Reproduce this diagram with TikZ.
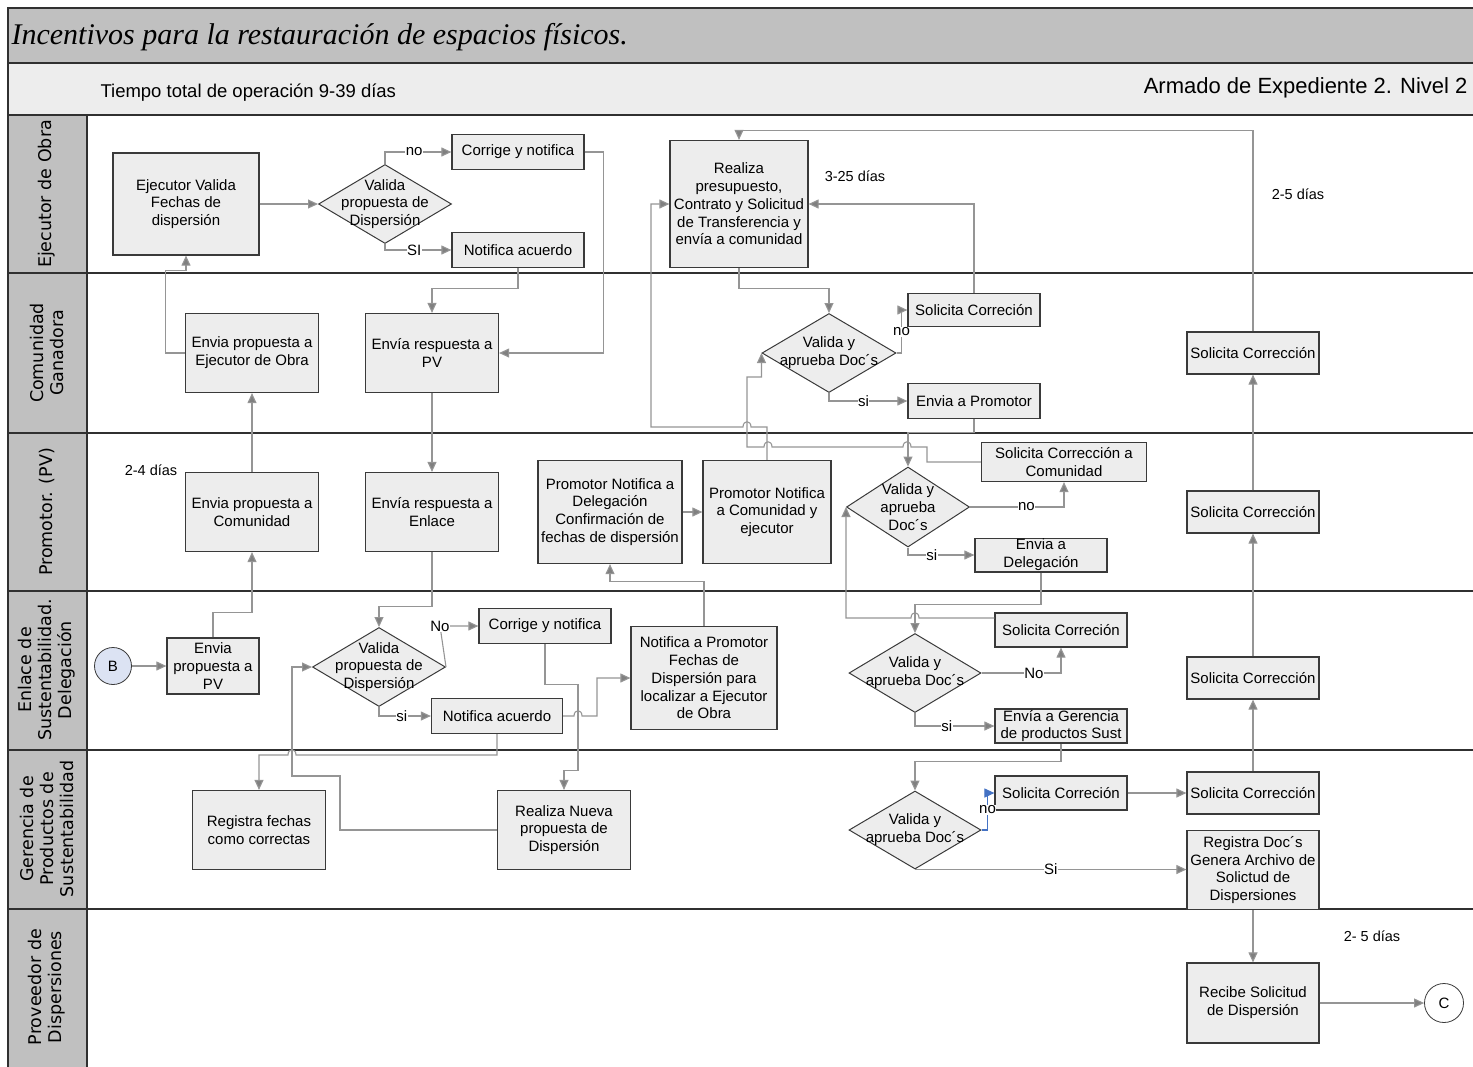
\documentclass[tikz,border=0pt]{standalone}
\usepackage{fontspec}
\setmainfont{Liberation Sans}
\newfontfamily\lanesans{DejaVu Sans}
\newfontfamily\titleserif{Liberation Serif}
\usetikzlibrary{arrows.meta,shapes.geometric}

\definecolor{titlegray}{HTML}{C0C0C0}
\definecolor{headgray}{HTML}{EDEDED}
\definecolor{boxfill}{HTML}{EDEDED}
\definecolor{boxline}{HTML}{3A3A3A}
\definecolor{flowgray}{HTML}{959595}
\definecolor{tipgray}{HTML}{808080}
\definecolor{linkblue}{HTML}{4472C4}
\definecolor{bfill}{HTML}{DCE3F3}
\definecolor{lanedark}{HTML}{303030}

\newcommand{\procfont}{\fontsize{15}{17.8}\selectfont}
\newcommand{\lanetxt}{\lanesans\fontsize{17.5}{20}\selectfont}
\newcommand{\daytxt}{\fontsize{14.5}{17}\selectfont}
\newcommand{\titletxt}{\titleserif\itshape\fontsize{30}{34}\selectfont}

\tikzset{
  lane/.style={draw=lanedark, line width=1.6pt},
  proc/.style={rectangle, draw=boxline, fill=boxfill, line width=1.2pt, align=center, font=\procfont, inner sep=1pt},
  big/.style={proc, minimum width=133pt, minimum height=79pt},
  slim/.style={proc, minimum width=132pt, minimum height=35pt},
  mid/.style={proc, minimum width=132pt, minimum height=42pt},
  decision/.style={diamond, draw=boxline, fill=boxfill, line width=1pt, minimum width=133pt, minimum height=79pt, inner sep=0pt},
  flow/.style={draw=flowgray, line width=1.1pt, -{Triangle[length=10pt,width=9pt,fill=tipgray]}},
  tag/.style={fill=white, font=\procfont, inner sep=0.5pt},
  days/.style={font=\daytxt},
  lanelabel/.style={rotate=90, align=center, font=\lanetxt},
}

\begin{document}
\begin{tikzpicture}[x=1pt,y=-1pt]
  \useasboundingbox (0,0) rectangle (1473,1066);
  \clip (0,0) rectangle (1473,1066);

  % Bands and lanes
  \fill[titlegray] (8,8) rectangle (1480,63);
  \fill[headgray] (8,63) rectangle (1480,115);
  \fill[titlegray] (8,115) rectangle (87,1070);
  \draw[lane] (8,1070) -- (8,8) -- (1480,8);
  \draw[lane] (8,63) -- (1480,63) (8,115) -- (1480,115) (8,273) -- (1480,273)
    (8,433) -- (1480,433) (8,591) -- (1480,591) (8,750) -- (1480,750) (8,909) -- (1480,909);
  \draw[lane] (87,115) -- (87,1070);

  \node[anchor=west, font=\titletxt] (title) at (8,37) {Incentivos para la restauración de espacios físicos.};
  \node[anchor=west, font=\fontsize{18.5}{22}\selectfont] (tiempo) at (97,93) {Tiempo total de operación 9-39 días};
  \node[anchor=east, font=\fontsize{22}{26}\selectfont] (armado) at (1471,88) {Armado de Expediente 2. Nivel 2};

  \node[lanelabel] (laneEj) at (47,194) {Ejecutor de Obra};
  \node[lanelabel] (laneCom) at (47,353) {Comunidad\\Ganadora};
  \node[lanelabel] (lanePV) at (47,512) {Promotor. (PV)};
  \node[lanelabel] (laneEnl) at (47,670) {Enlace de\\Sustentabilidad.\\Delegación};
  \node[lanelabel] (laneGer) at (47,829) {Gerencia de\\Productos de\\Sustentabilidad};
  \node[lanelabel] (laneProv) at (47,987) {Proveedor de\\Dispersiones};

  % Ejecutor de Obra
  \node[proc, minimum width=146pt, minimum height=102pt] (ejval) at (186,204) {Ejecutor Valida\\Fechas de\\dispersión};
  \node[decision, label={[font=\procfont,align=center]center:{Valida\\propuesta de\\Dispersión}}] (dec1) at (385,204) {};
  \node[slim] (corr1) at (518,152) {Corrige y notifica};
  \node[slim] (notif1) at (518,250) {Notifica acuerdo};
  \node[proc, minimum width=138pt, minimum height=127pt] (realiza) at (739,204) {Realiza\\presupuesto,\\Contrato y Solicitud\\de Transferencia y\\envía a comunidad};
  \node[days] (t325) at (855,176) {3-25 días};
  \node[days] (t25) at (1298,194) {2-5 días};

  % Comunidad Ganadora
  \node[big] (envEj) at (252,353) {Envia propuesta a\\Ejecutor de Obra};
  \node[big] (envPV) at (432,353) {Envía respuesta a\\PV};
  \node[decision, minimum width=134pt, label={[font=\procfont,align=center]center:{Valida y\\aprueba Doc´s}}] (dec2) at (829,353) {};
  \node[slim, minimum height=33pt] (solc1) at (974,310) {Solicita Correción};
  \node[slim] (envProm) at (974,401) {Envia a Promotor};
  \node[mid] (solcR1) at (1253,353) {Solicita Corrección};

  % Promotor
  \node[days] (t24) at (151,470) {2-4 días};
  \node[big] (envCom) at (252,512) {Envia propuesta a\\Comunidad};
  \node[big] (envEnl) at (432,512) {Envía respuesta a\\Enlace};
  \node[proc, minimum width=144pt, minimum height=103pt] (promDel) at (610,512) {Promotor Notifica a\\Delegación\\Confirmación de\\fechas de dispersión};
  \node[proc, minimum width=128pt, minimum height=103pt] (promCom) at (767,512) {Promotor Notifica\\a Comunidad y\\ejecutor};
  \node[decision, minimum width=123pt, minimum height=80pt, label={[font=\procfont,align=center]center:{Valida y\\aprueba\\Doc´s}}] (dec3) at (908,507) {};
  \node[proc, minimum width=165pt, minimum height=39pt] (solcCom) at (1064,462) {Solicita Corrección a\\Comunidad};
  \node[slim, minimum height=33pt] (envDel) at (1041,555) {Envia a\\Delegación};
  \node[mid] (solcR2) at (1253,512) {Solicita Corrección};

  % Enlace de Sustentabilidad
  \node[circle, draw=boxline, fill=bfill, line width=0.8pt, minimum size=37pt, font=\procfont] (B) at (113,666) {B};
  \node[proc, minimum width=92pt, minimum height=56pt] (envPV2) at (213,666) {Envia\\propuesta a\\PV};
  \node[decision, label={[font=\procfont,align=center]center:{Valida\\propuesta de\\Dispersión}}] (dec4) at (379,667) {};
  \node[slim] (corr4) at (545,626) {Corrige y notifica};
  \node[slim, minimum width=131pt] (notif4) at (497,716) {Notifica acuerdo};
  \node[proc, minimum width=146pt, minimum height=103pt] (notProm) at (704,678) {Notifica a Promotor\\Fechas de\\Dispersión para\\localizar a Ejecutor\\de Obra};
  \node[decision, minimum width=132pt, label={[font=\procfont,align=center]center:{Valida y\\aprueba Doc´s}}] (dec5) at (915,673) {};
  \node[slim, minimum height=34pt] (solc5) at (1061,630) {Solicita Correción};
  \node[slim, minimum height=34pt] (envGer) at (1061,726) {Envía a Gerencia\\de productos Sust};
  \node[mid] (solcR3) at (1253,678) {Solicita Corrección};

  % Gerencia de Productos
  \node[big] (regF) at (259,830) {Registra fechas\\como correctas};
  \node[big] (realN) at (564,830) {Realiza Nueva\\propuesta de\\Dispersión};
  \node[decision, minimum width=132pt, minimum height=78pt, label={[font=\procfont,align=center]center:{Valida y\\aprueba Doc´s}}] (dec6) at (915,830) {};
  \node[slim, minimum height=34pt] (solc6) at (1061,793) {Solicita Correción};
  \node[mid] (solcR4) at (1253,793) {Solicita Corrección};
  \node[big, minimum width=132pt] (regDoc) at (1253,870) {Registra Doc´s\\Genera Archivo de\\Solictud de\\Dispersiones};

  % Proveedor
  \node[days] (t25b) at (1372,936) {2- 5 días};
  \node[big, minimum width=132pt, minimum height=80pt] (recibe) at (1253,1003) {Recibe Solicitud\\de Dispersión};
  \node[circle, draw=boxline, fill=white, line width=0.8pt, minimum size=39pt, font=\procfont] (C) at (1444,1003) {C};

  % connectors, first lane
  \draw[flow] (ejval.east) -- (dec1.west);
  \draw[flow] (dec1.north) |- node[tag,pos=0.72]{no} (corr1.west);
  \draw[flow] (dec1.south) |- node[tag,pos=0.72]{SI} (notif1.west);
  \draw[flow] (corr1.east) -- ++(19,0) |- (envPV.east);
  \draw[flow] (notif1.south) -- ++(0,20) -| (envPV.north);
  \draw[flow] (envEj.west) -- ++(-19,0) |- ([yshift=-15pt]ejval.south) -- (ejval.south);
  \draw[flow] (envCom.north) -- (envEj.south);
  \draw[flow] (envPV.south) -- (envEnl.north);

  % connectors, Enlace and Gerencia
  \draw[flow] (B) -- (envPV2);
  \draw[flow] (envPV2.north) -- ++(0,-25) -| (envCom.south);
  \draw[flow] (envEnl.south) -- ++(0,54) -| (dec4.north);
  \draw[flow] (dec4.east) -- (440,626) node[tag]{No} -- (corr4.west);
  \draw[flow] (dec4.south) |- node[tag,pos=0.72]{si} (notif4.west);
  \draw[flow] (corr4.south) -- ++(0,40) -- ++(33,0) -- ++(0,86) -| (realN.north);
  \draw[flow] (notif4.east) -- (574,716) .. controls (574,709) and (582,709) .. (582,716) -- (597,716) |- (notProm.west);
  \draw[flow] (notif4.south) |- (296,755) .. controls (296,748) and (288,748) .. (288,755) -| (regF.north);
  \draw[flow] (realN.west) -- (340,830) -- (340,776) -- (292,776) |- (dec4.west);
  \draw[flow] (notProm.north) -- ++(0,-44) -| (promDel.south);
  \draw[flow] (promDel.east) -- (promCom.west);

  % connectors, Promotor and Comunidad
  \draw[flow] (promCom.north) -- (767,427) -- (751,427) .. controls (751,420) and (743,420) .. (743,427) -- (651,427) |- (realiza.west);
  \draw[flow] (solcCom.west) -- (927,462) -- (927,447) -- (911,447) .. controls (911,440) and (903,440) .. (903,447)
    -- (772,447) .. controls (772,440) and (764,440) .. (764,447) -- (747,447) -- (747,377) -| (dec2.west);
  \draw[flow] (envProm.south) -- ++(0,13) -| (dec3.north);
  \draw[flow] (realiza.south) -- ++(0,20) -| (dec2.north);
  \draw[flow] (dec2.east) -- ++(5,0) -- ++(0,-21) node[tag]{no} |- (solc1.west);
  \draw[flow] (dec2.south) |- node[tag,pos=0.72]{si} (envProm.west);
  \draw[flow] (solc1.north) |- (realiza.east);
  \draw[flow] (solcR1.north) -- ++(0,-201) -| (realiza.north);
  \draw[flow] (dec3.east) -| node[tag,pos=0.3]{no} (solcCom.south);
  \draw[flow] (dec3.south) |- node[tag,pos=0.68]{si} (envDel.west);

  % connectors, right side
  \draw[flow] (envDel.south) -- ++(0,32) -| (dec5.north);
  \draw[flow] ([yshift=12pt]solc5.west) -- (919,618) .. controls (919,611) and (911,611) .. (911,618) -| (dec3.west);
  \draw[flow] (dec5.east) -| node[tag,pos=0.33]{No} (solc5.south);
  \draw[flow] (dec5.south) |- node[tag,pos=0.7]{si} (envGer.west);
  \draw[flow] (envGer.south) -- ++(0,18) -| (dec6.north);
  \draw[flow, draw=linkblue, -{Triangle[length=10pt,width=9pt,fill=linkblue]}] (dec6.east) -- ++(6,0) -- ++(0,-20) node[tag]{no} |- (solc6.west);
  \draw[flow] (solc6.east) -- (solcR4.west);
  \draw[flow] (dec6.south) -- node[tag]{Si} (dec6.south -| regDoc.west);
  \draw[flow] (solcR4.north) -- (solcR3.south);
  \draw[flow] (solcR3.north) -- (solcR2.south);
  \draw[flow] (solcR2.north) -- (solcR1.south);
  \draw[flow] (regDoc.south) -- (recibe.north);
  \draw[flow] (recibe.east) -- (C.west);
\end{tikzpicture}
\end{document}
